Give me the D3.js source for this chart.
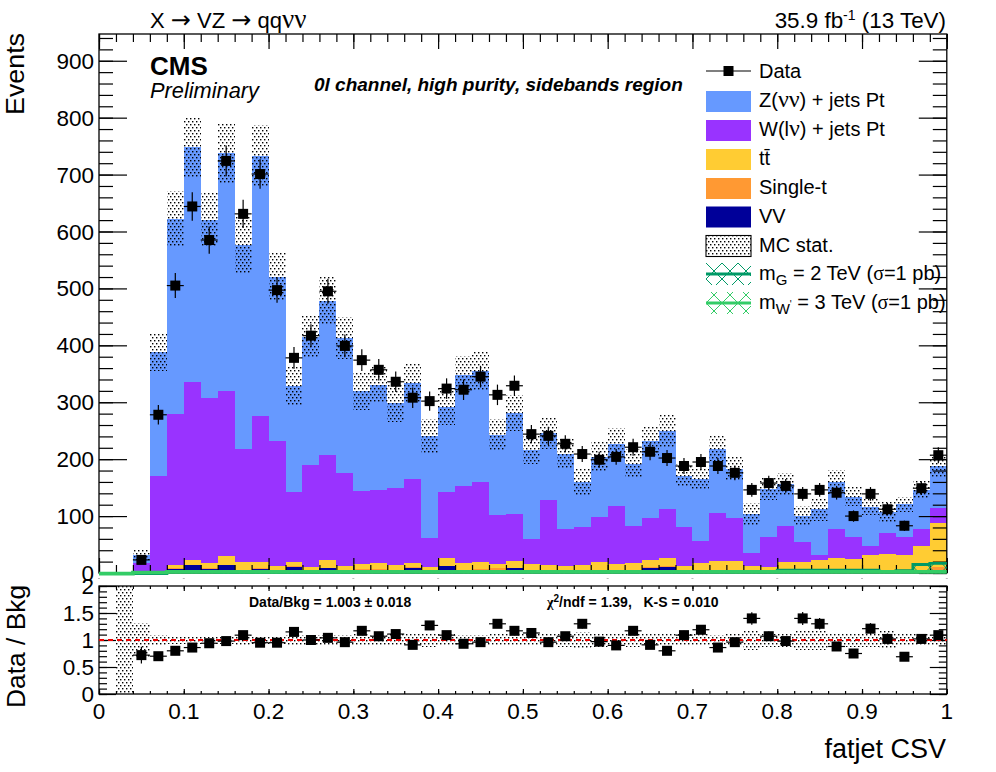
<!DOCTYPE html>
<html><head><meta charset="utf-8">
<script src="https://cdn.jsdelivr.net/npm/d3@7"></script>
<style>
html,body{margin:0;padding:0;background:#fff}
text{font-family:"Liberation Sans",Arial,sans-serif;fill:#000;white-space:pre}
</style></head><body><svg id="c" width="996" height="772"></svg>
<script>
const binEdges = d3.range(51).map(i => i / 50);
const zJets = [0,0,14,218,343,413,313,418,358,457,288,187,225,271,237,176,184,150,169,178,150,195,195,141,177,156,118,132,79,106,109,109,135,138,90,109,113,86,69,85,73,46,80,83,71,69,37,58,69,74];
const wJets = [0,0,18,168,265,313,290,290,199,257,220,123,179,184,164,128,128,135,147,51,116,135,141,86,83,44,114,65,67,79,102,65,74,86,69,38,84,76,23,52,64,35,9,51,38,15,37,31,30,26];
const ttbar = [0,0,0,2,6,9,9,16,14,10,7,7,6,14,7,9,11,9,8,7,13,14,12,8,12,12,10,9,10,15,12,14,13,14,11,17,20,20,11,10,18,18,22,25,24,31,32,31,42,77];
const singleT = [0,0,0,0,1,0,2,0,1,2,2,1,2,1,2,2,1,1,1,1,1,1,2,6,1,2,1,1,1,1,1,1,1,1,0,0,0,0,0,0,0,0,0,0,0,0,0,0,4,10];
const dibosons = [0,0,0,0,7,14,7,14,4,7,3,11,3,8,3,5,6,4,9,3,12,3,5,2,8,2,3,2,3,3,3,3,9,11,1,1,1,1,1,1,1,1,1,1,1,1,1,1,1,1];
const mcErr = [0,0,10,33,50,53,47,53,50,54,42,33,38,42,37,33,32,33,35,30,32,33,35,28,32,24,28,26,25,26,27,25,26,28,20,19,22,20,19,19,20,18,20,21,17,14,17,13,16,19];
const dataVals = [null,null,23,278,505,644,585,724,631,701,497,378,417,495,399,374,357,336,308,302,324,322,345,313,329,244,241,227,209,199,204,221,213,202,188,195,188,176,146,158,153,139,146,141,100,139,112,83,149,207];
const dataErr = [0,0,5,17,22,25,24,27,25,26,22,19,20,22,20,19,19,18,18,17,18,18,19,18,18,16,16,15,14,14,14,15,15,14,14,14,14,13,12,13,12,12,12,12,10,12,11,9,12,14];
const ratioVals = [null,null,0.72,0.70,0.80,0.86,0.94,0.98,1.09,0.95,0.95,1.15,1.00,1.04,0.96,1.17,1.07,1.11,0.91,1.27,1.09,0.93,0.96,1.30,1.17,1.13,0.96,1.07,1.30,0.97,0.90,1.17,0.91,0.80,1.09,1.19,0.86,0.96,1.40,1.07,0.98,1.40,1.30,0.88,0.75,1.21,1.02,0.69,1.02,1.09];
const sigG = [0,0,0,0,3,3,3,2,2,2,2,2,2,2,2,3,3,3,3,3,3,3,2,2,3,3,3,3,3,3,3,3,3,3,3,3,3,3,3,3,6,6,6,6,6,6,4,5,16,18];
const sigW = [0,0,2,2,3,3,3,3,3,3,3,3,3,3,3,3,3,3,3,3,3,3,3,3,3,3,3,3,3,3,3,3,3,3,3,3,3,3,3,3,3,3,3,3,3,3,3,3,3,3];
const yTicks = d3.range(0, 901, 100);
const yMinor = d3.range(0, 941, 20);
const xTicks = d3.range(0, 11).map(i => i / 10);
const xMinor = d3.range(0, 51).map(i => i / 50);
const rTicks = [0, 0.5, 1, 1.5, 2];
const rMinor = d3.range(0, 21).map(i => i / 10);
const processKeys = ["vv", "st", "tt", "w", "z"];
const processColors = {z:"#6699ff", w:"#9933ff", tt:"#ffcc33", st:"#ff9933", vv:"#000099"};
const colG = "#009966", colW = "#33cc66";

const L = 99, R = 946.8, T = 34, B = 573, RT = 586, RB = 694;
const svg = d3.select("#c");
const x = d3.scaleLinear().domain([0,1]).range([L,R]);
const y = d3.scaleLinear().domain([0,947]).range([B,T]);
const r = d3.scaleLinear().domain([0,2]).range([RB,RT]);
const bins = d3.range(50);
const bw = i => x(binEdges[i+1]) - x(binEdges[i]);
const cx = i => (x(binEdges[i]) + x(binEdges[i+1])) / 2;

const defs = svg.append("defs");
const dots = defs.append("pattern").attr("id","dots").attr("patternUnits","userSpaceOnUse").attr("width",4).attr("height",6);
[[0,1],[2,4]].forEach(p => dots.append("rect").attr("x",p[0]).attr("y",p[1]).attr("width",1.4).attr("height",1.4).attr("fill","#000"));
[["hatchG",colG,0],["hatchW",colW,8]].forEach(h => {
  const p = defs.append("pattern").attr("id",h[0]).attr("patternUnits","userSpaceOnUse").attr("width",16).attr("height",16).attr("patternTransform",`translate(2,${h[2]+7})`);
  p.append("path").attr("d","M0,0L16,16M16,0L0,16").attr("stroke",h[1]).attr("stroke-width",1).attr("fill","none");
});

// stack
const rows = bins.map(i => ({i, z:zJets[i], w:wJets[i], tt:ttbar[i], st:singleT[i], vv:dibosons[i]}));
const stacked = d3.stack().keys(processKeys)(rows);
stacked.forEach(s => {
  svg.append("g").attr("fill",processColors[s.key]).attr("shape-rendering","crispEdges").selectAll("rect").data(s).join("rect")
    .attr("x",d => x(binEdges[d.data.i])).attr("width",d => bw(d.data.i))
    .attr("y",d => y(d[1])).attr("height",d => Math.max(0,y(d[0])-y(d[1])));
});
const total = bins.map(i => zJets[i]+wJets[i]+ttbar[i]+singleT[i]+dibosons[i]);
// MC stat band
svg.append("g").attr("fill","url(#dots)").attr("shape-rendering","crispEdges").selectAll("rect").data(bins.filter(i => total[i]>0)).join("rect")
  .attr("x",i => x(binEdges[i])).attr("width",i => bw(i))
  .attr("y",i => y(total[i]+mcErr[i])).attr("height",i => y(total[i]-mcErr[i])-y(total[i]+mcErr[i]));

// axes helper
function ticks(axisFn, scale, vals, size, tx, ty) {
  const g = svg.append("g").attr("transform",`translate(${tx},${ty})`)
    .call(axisFn(scale).tickValues(vals).tickSize(size).tickFormat(""));
  g.select(".domain").remove();
  g.selectAll("line").attr("stroke","#000").attr("stroke-width",1.2);
  return g;
}
function frame(t,b){ svg.append("rect").attr("x",L).attr("y",t).attr("width",R-L).attr("height",b-t).attr("fill","none").attr("stroke","#000").attr("stroke-width",1.3); }
// upper
ticks(d3.axisLeft,y,yTicks,-28,L,0); ticks(d3.axisLeft,y,yMinor,-14,L,0);
ticks(d3.axisRight,y,yTicks,-28,R,0); ticks(d3.axisRight,y,yMinor,-14,R,0);
ticks(d3.axisBottom,x,xTicks,15,0,T);
ticks(d3.axisBottom,x,xMinor,8,0,T);
ticks(d3.axisTop,x,xTicks,15,0,B); ticks(d3.axisTop,x,xMinor,8,0,B);
frame(T,B);

// tiny specks under upper panel
svg.append("g").selectAll("rect").data(xTicks).join("rect").attr("x",d=>x(d)-1).attr("y",578).attr("width",2).attr("height",1).attr("fill","#bbb");

// signals
const stepX = bins.map(i => binEdges[i]).concat([1]);
[[sigG,colG,"hatchG",2.8],[sigW,colW,"hatchW",3.6]].forEach(s => {
  const vals = s[0].concat([s[0][49]]);
  const g = svg.append("g").attr("transform","translate(0,0.6)");
  g.append("path").datum(stepX.map((v,k)=>[v,vals[k]]))
    .attr("fill","url(#"+s[2]+")")
    .attr("d",d3.area().x(d=>x(d[0])).y0(y(0)).y1(d=>y(d[1])).curve(d3.curveStepAfter));
  g.append("path").datum(stepX.map((v,k)=>[v,vals[k]]))
    .attr("fill","none").attr("stroke",s[1]).attr("stroke-width",s[3])
    .attr("d",d3.line().x(d=>x(d[0])).y(d=>y(d[1])).curve(d3.curveStepAfter));
});

// data
const MS = 10;
function points(vals, errs, sc) {
  const idx = bins.filter(i => vals[i] !== null);
  const g = svg.append("g");
  g.selectAll("line.h").data(idx).join("line").attr("class","h").attr("x1",i=>x(binEdges[i])).attr("x2",i=>x(binEdges[i+1]))
    .attr("y1",i=>sc(vals[i])).attr("y2",i=>sc(vals[i])).attr("stroke","#000").attr("stroke-width",1.2);
  g.selectAll("line.v").data(idx).join("line").attr("class","v").attr("x1",cx).attr("x2",cx)
    .attr("y1",i=>sc(vals[i]-errs[i])).attr("y2",i=>sc(vals[i]+errs[i])).attr("stroke","#000").attr("stroke-width",1.2);
  g.selectAll("rect").data(idx).join("rect").attr("x",i=>cx(i)-MS/2).attr("y",i=>sc(vals[i])-MS/2).attr("width",MS).attr("height",MS).attr("fill","#000");
}
points(dataVals,dataErr,y);

// ratio panel
const ratioBand = bins.map(i => i===1 ? 1 : (total[i]>0 ? mcErr[i]/total[i] : 0));
svg.append("g").attr("fill","url(#dots)").attr("shape-rendering","crispEdges").selectAll("rect").data(bins.filter(i=>ratioBand[i]>0)).join("rect")
  .attr("x",i=>x(binEdges[i])).attr("width",i=>bw(i))
  .attr("y",i=>r(1+ratioBand[i])).attr("height",i=>r(1-ratioBand[i])-r(1+ratioBand[i]));
ticks(d3.axisLeft,r,rTicks,-17,L,0); ticks(d3.axisLeft,r,rMinor,-8,L,0);
ticks(d3.axisRight,r,rTicks,-17,R,0); ticks(d3.axisRight,r,rMinor,-8,R,0);
ticks(d3.axisTop,x,xTicks,5,0,RB); ticks(d3.axisTop,x,xMinor,3,0,RB);
ticks(d3.axisBottom,x,xTicks,5,0,RT); ticks(d3.axisBottom,x,xMinor,3,0,RT);
frame(RT,RB);
svg.append("line").attr("x1",L).attr("x2",R).attr("y1",r(1)).attr("y2",r(1)).attr("stroke","#ee0000").attr("stroke-width",2).attr("stroke-dasharray","5 4");
points(ratioVals,bins.map(i=>total[i]>0?dataErr[i]/total[i]:0),r);

// text helper
function txt(px,py,size,parts,opt={}) {
  const t = svg.append("text").attr("x",px).attr("y",py).attr("font-size",size)
    .attr("text-anchor",opt.anchor||"start").attr("font-weight",opt.weight||null).attr("font-style",opt.style||null);
  if(opt.rotate) t.attr("transform",`rotate(-90 ${px} ${py})`);
  let prev=0;
  (Array.isArray(parts)?parts:[parts]).forEach(p => {
    if(typeof p==="string") p={t:p};
    const s=t.append("tspan").text(p.t);
    const shift=p.dy||0;
    if(shift!==prev) s.attr("dy",shift-prev);
    prev=shift;
    if(p.size) s.attr("font-size",p.size);
    if(p.serif) s.style("font-family","'Liberation Serif'");
    if(p.family) s.style("font-family",p.family);
  });
  return t;
}
yTicks.forEach(v=>txt(94,y(v)+8,22.5,String(v),{anchor:"end"}));
rTicks.forEach(v=>txt(94,r(v)+8,22.5,String(v),{anchor:"end"}));
xTicks.forEach(v=>txt(x(v),719,22.5,String(v),{anchor:"middle"}));
txt(24,115,26.4,"Events",{rotate:true}).attr("textLength",82).attr("lengthAdjust","spacingAndGlyphs");
txt(25,708,26.4,"Data / Bkg",{rotate:true});
txt(946,758,27,"fatjet CSV",{anchor:"end"});
const arrowF = {t:"→",family:"'DejaVu Sans'",size:24};
txt(150,28,22,["X ",arrowF," VZ ",arrowF," qq",{t:"νν",serif:true,size:27}]);
txt(946,28,22.4,["35.9 fb",{t:"-1",dy:-8,size:14},{t:" (13 TeV)",dy:0}],{anchor:"end"});
txt(150,75,26,"CMS",{weight:"bold"});
txt(150,98,21.8,"Preliminary",{style:"italic"});
txt(314,91,19,"0l channel, high purity, sidebands region",{weight:"bold",style:"italic"});
txt(249,607,14,"Data/Bkg = 1.003 ± 0.018",{weight:"bold"});
txt(547,607,14,[{t:"χ",serif:true},{t:"2",dy:-5,size:10},{t:"/ndf = 1.39,   K-S = 0.010",dy:0}],{weight:"bold"});

// legend
const lx=706, lw=45, tx=759, lh=21;
const rowsY=[71,101.5,130.5,159.5,188.5,217,246,274,303];
svg.append("line").attr("x1",lx).attr("x2",lx+lw).attr("y1",rowsY[0]).attr("y2",rowsY[0]).attr("stroke","#000").attr("stroke-width",1.2);
svg.append("rect").attr("x",lx+lw/2-MS/2).attr("y",rowsY[0]-MS/2).attr("width",MS).attr("height",MS);
["z","w","tt","st","vv"].forEach((k,j)=>svg.append("rect").attr("x",lx).attr("y",rowsY[j+1]-lh/2).attr("width",lw).attr("height",lh).attr("fill",processColors[k]));
svg.append("rect").attr("x",lx).attr("y",rowsY[6]-lh/2).attr("width",lw).attr("height",lh).attr("fill","url(#dots)").attr("stroke","#000").attr("stroke-width",1.1);
[[7,colG,"hatchG"],[8,colW,"hatchW"]].forEach(a=>{
  svg.append("rect").attr("x",lx).attr("y",rowsY[a[0]]-11).attr("width",lw).attr("height",22).attr("fill",`url(#${a[2]})`);
  svg.append("line").attr("x1",lx).attr("x2",lx+lw).attr("y1",rowsY[a[0]]).attr("y2",rowsY[a[0]]).attr("stroke",a[1]).attr("stroke-width",3.2);
});
const S=20;
const by=5.8;
txt(tx,rowsY[0]+by+1,S,"Data");
txt(tx,rowsY[1]+by,S,["Z(",{t:"νν",serif:true,size:24},") + jets Pt"]);
txt(tx,rowsY[2]+by,S,["W(l",{t:"ν",serif:true,size:24},") + jets Pt"]);
txt(tx,rowsY[3]+by,S,"tt\u0304");
txt(tx,rowsY[4]+by,S,"Single-t");
txt(tx,rowsY[5]+by,S,"VV");
txt(tx,rowsY[6]+by,S,"MC stat.");
txt(tx,rowsY[7]+by,S,["m",{t:"G",dy:5,size:15},{t:" = 2 TeV (",dy:0},{t:"σ",serif:true,dy:0},{t:"=1 pb)",dy:0}]);
txt(tx,rowsY[8]+by,S,["m",{t:"W",dy:5,size:15},{t:"'",dy:-1,size:10},{t:" = 3 TeV (",dy:0},{t:"σ",serif:true,dy:0},{t:"=1 pb)",dy:0}]);
</script></body></html>
